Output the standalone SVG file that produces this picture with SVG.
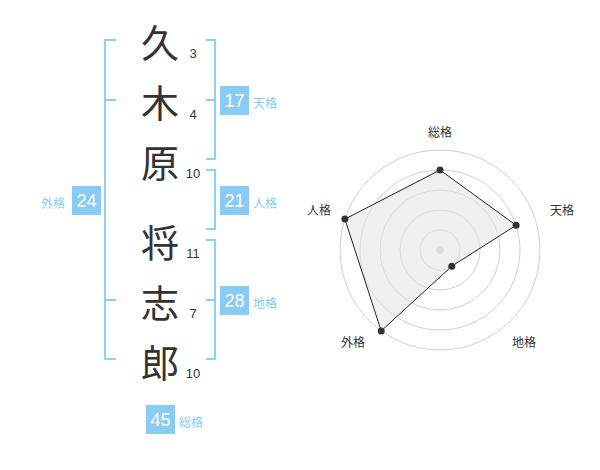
<svg xmlns="http://www.w3.org/2000/svg" width="600" height="470" viewBox="0 0 600 470">
<style>
.br{fill:none;stroke:#8dd0f8;stroke-width:2}
.kj{font-family:"Noto Sans CJK JP",sans-serif;font-size:38px;fill:#333;text-anchor:middle;dominant-baseline:central}
.st{font-family:"Liberation Sans",Arial,sans-serif;font-size:13px;fill:#333;text-anchor:middle;dominant-baseline:central}
.bx{fill:#88cbf5}
.bn{font-family:"Liberation Sans",Arial,sans-serif;font-size:18px;fill:#fff;text-anchor:middle;dominant-baseline:central}
.bl{font-family:"Noto Sans CJK JP",sans-serif;font-size:12px;fill:#88cbf5;dominant-baseline:central}
.ring{fill:none;stroke:#d0d0d0;stroke-width:1}
.rl{font-family:"Noto Sans CJK JP",sans-serif;font-size:12px;fill:#333;text-anchor:middle;dominant-baseline:central}
.dot{fill:#333}
</style>
<rect width="600" height="470" fill="#fff"/>
<g id="connectors">
<path class="br" d="M116,40H105V359H116M105,100H116M105,300H116"/>
<path class="br" d="M206,40H215V159H206M206,100H215"/>
<path class="br" d="M206,170H215V229H206"/>
<path class="br" d="M206,240H215V359H206M206,300H215"/>
</g>
<g id="name">
<g id="c1"><text class="kj" x="160" y="40">久</text><text class="st" x="193" y="53">3</text></g>
<g id="c2"><text class="kj" x="160" y="100">木</text><text class="st" x="193" y="114">4</text></g>
<g id="c3"><text class="kj" x="160" y="160">原</text><text class="st" x="193" y="173">10</text></g>
<g id="c4"><text class="kj" x="160" y="240">将</text><text class="st" x="193" y="253">11</text></g>
<g id="c5"><text class="kj" x="160" y="300">志</text><text class="st" x="193" y="313">7</text></g>
<g id="c6"><text class="kj" x="160" y="360">郎</text><text class="st" x="193" y="373">10</text></g>
</g>
<g id="tenkaku"><rect class="bx" x="220" y="86" width="29" height="29"/><text class="bn" x="234.5" y="101">17</text><text class="bl" x="253" y="102">天格</text></g>
<g id="jinkaku"><rect class="bx" x="220" y="186" width="29" height="29"/><text class="bn" x="234.5" y="201">21</text><text class="bl" x="253" y="202">人格</text></g>
<g id="chikaku"><rect class="bx" x="220" y="286" width="29" height="29"/><text class="bn" x="234.5" y="301">28</text><text class="bl" x="253" y="302">地格</text></g>
<g id="gaikaku"><rect class="bx" x="72" y="186" width="29" height="29"/><text class="bn" x="86.5" y="201">24</text><text class="bl" x="41" y="202">外格</text></g>
<g id="soukaku"><rect class="bx" x="146" y="405" width="29" height="29"/><text class="bn" x="160.5" y="420">45</text><text class="bl" x="179" y="421">総格</text></g>
<g id="radar">
<circle class="ring" cx="440" cy="250" r="20"/>
<circle class="ring" cx="440" cy="250" r="40"/>
<circle class="ring" cx="440" cy="250" r="60"/>
<circle class="ring" cx="440" cy="250" r="80"/>
<circle class="ring" cx="440" cy="250" r="100"/>
<circle cx="440" cy="250" r="4" fill="#ccc"/>
<polygon points="440,170 516.1,225.3 451.8,266.2 381.2,330.9 344.9,219.1" fill="#e6e6e6" fill-opacity="0.6" stroke="#222" stroke-width="1"/>
<circle class="dot" cx="440" cy="170" r="3.5"/>
<circle class="dot" cx="516.1" cy="225.3" r="3.5"/>
<circle class="dot" cx="451.8" cy="266.2" r="3.5"/>
<circle class="dot" cx="381.2" cy="330.9" r="3.5"/>
<circle class="dot" cx="344.9" cy="219.1" r="3.5"/>
<text class="rl" x="440" y="131">総格</text>
<text class="rl" x="562" y="209">天格</text>
<text class="rl" x="524" y="341">地格</text>
<text class="rl" x="353" y="341">外格</text>
<text class="rl" x="319" y="209">人格</text>
</g>
</svg>
